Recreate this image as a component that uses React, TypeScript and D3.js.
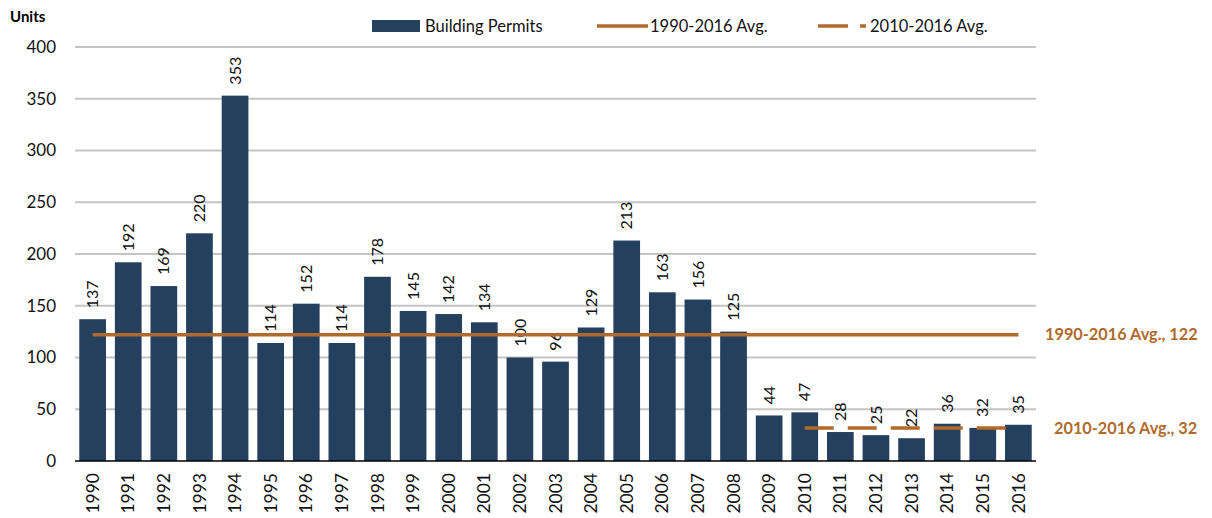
import * as d3 from "d3";

const years = d3.range(1990, 2017).map(String);
const permits = [137, 192, 169, 220, 353, 114, 152, 114, 178, 145, 142, 134, 100, 96, 129, 213, 163, 156, 125, 44, 47, 28, 25, 22, 36, 32, 35];
const yTicks = [0, 50, 100, 150, 200, 250, 300, 350, 400];
const longAvg = 122;
const shortAvg = 32;
const shortStart = "2010";

const W = 1212;
const H = 518;
const left = 75;
const right = 1036;
const top = 47;
const bottom = 461;

const barColor = "#253f5f";
const avgColor = "#b06a2c";
const font = "Lato, 'Open Sans', sans-serif";

export default function App() {
  const x = d3.scaleBand().domain(years).range([left, right]).paddingInner(0.25).paddingOuter(0.12);
  const y = d3.scaleLinear().domain([0, 400]).range([bottom, top]);
  const cx = (yr: string) => (x(yr) as number) + x.bandwidth() / 2;

  const line = d3.line<[number, number]>();
  const longPath = line([[cx(years[0]), y(longAvg)], [cx(years[years.length - 1]), y(longAvg)]]);
  const shortPath = line([[cx(shortStart), y(shortAvg)], [cx(years[years.length - 1]), y(shortAvg)]]);

  return (
    <svg width={W} height={H} style={{ position: "absolute", left: 0, top: 0, fontFamily: font }}>
      <text x={10} y={22} fontSize={15} fontWeight="bold" fill="#000">Units</text>

      {yTicks.map((t) => (
        <g key={t}>
          {t > 0 && <line x1={left} x2={right} y1={y(t)} y2={y(t)} stroke="#c4c4c4" strokeWidth={2} />}
          <text x={56} y={y(t)} dy="0.35em" textAnchor="end" fontSize={17} fill="#111">{t}</text>
        </g>
      ))}

      {permits.map((v, i) => (
        <g key={years[i]}>
          <rect x={x(years[i])} y={y(v)} width={x.bandwidth()} height={bottom - y(v)} fill={barColor} />
          <text
            transform={`translate(${cx(years[i])},${y(v) - 11}) rotate(-90)`}
            dy="0.35em"
            fontSize={16}
            fill="#111"
          >
            {v}
          </text>
          <text
            transform={`translate(${cx(years[i])},${bottom + 12}) rotate(-90)`}
            dy="0.35em"
            textAnchor="end"
            fontSize={17.5}
            fill="#111"
          >
            {years[i]}
          </text>
        </g>
      ))}

      <line x1={left} x2={right} y1={bottom} y2={bottom} stroke="#000" strokeWidth={1.5} />

      <path d={longPath ?? ""} stroke={avgColor} strokeWidth={3.5} fill="none" />
      <path d={shortPath ?? ""} stroke={avgColor} strokeWidth={3.5} fill="none" strokeDasharray="29,14" />

      <text x={1045} y={y(longAvg)} dy="0.35em" fontSize={16.3} fontWeight="bold" fill={avgColor}>1990-2016 Avg., 122</text>
      <text x={1054} y={y(shortAvg)} dy="0.35em" fontSize={16.3} fontWeight="bold" fill={avgColor}>2010-2016 Avg., 32</text>

      <g fontSize={16.5} fill="#111">
        <rect x={372} y={20} width={48} height={12} fill={barColor} />
        <text x={425} y={26} dy="0.35em">Building Permits</text>
        <line x1={597} x2={648} y1={26} y2={26} stroke={avgColor} strokeWidth={3.5} />
        <text x={650} y={26} dy="0.35em">1990-2016 Avg.</text>
        <line x1={818} x2={866} y1={26} y2={26} stroke={avgColor} strokeWidth={3.5} strokeDasharray="30,12" />
        <text x={870} y={26} dy="0.35em">2010-2016 Avg.</text>
      </g>
    </svg>
  );
}
